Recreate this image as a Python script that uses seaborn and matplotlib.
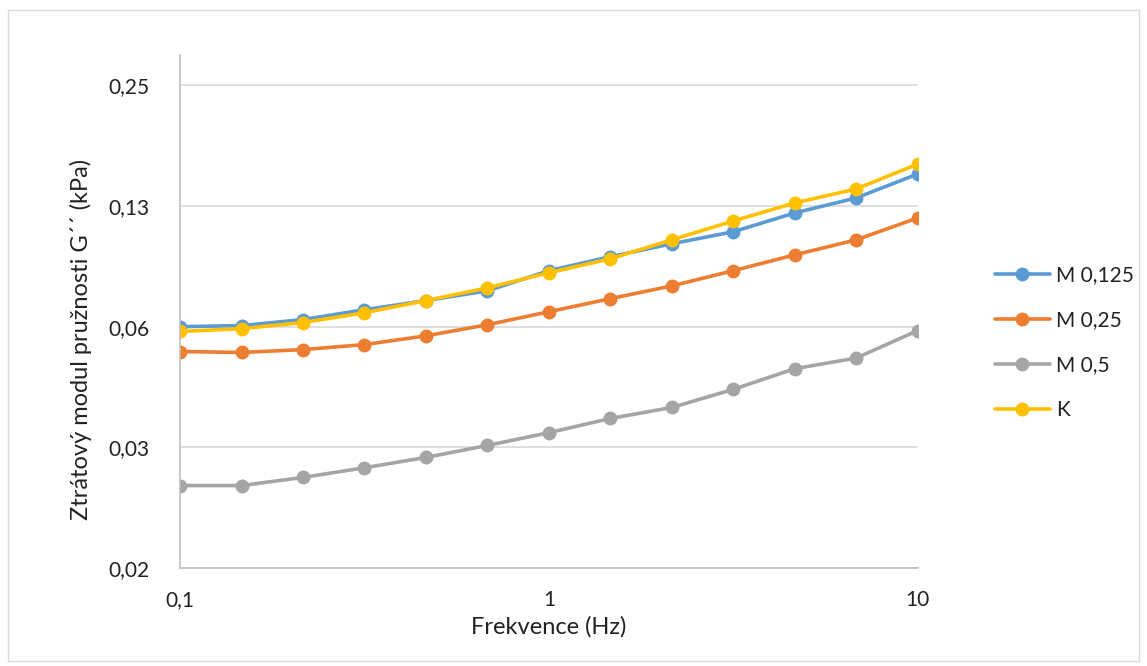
import numpy as np
import pandas as pd
import matplotlib
matplotlib.use('Agg')
import matplotlib.pyplot as plt
import seaborn as sns
from matplotlib.ticker import FixedLocator, FixedFormatter, NullLocator

sns.set_theme()
sns.set_style('white')
plt.rcParams['font.family'] = ['Lato', 'DejaVu Sans']

# data
frekvence = [0.1, 0.1468, 0.2154, 0.3162, 0.4642, 0.6813, 1.0, 1.468, 2.154, 3.162, 4.642, 6.813, 10.0]
m_0125 = [0.0625, 0.0629, 0.0651, 0.0689, 0.0726, 0.0768, 0.0862, 0.0934, 0.1006, 0.1078, 0.1201, 0.1309, 0.1502]
m_025 = [0.0542, 0.0539, 0.0548, 0.0564, 0.0593, 0.0632, 0.0681, 0.0734, 0.0790, 0.0862, 0.0944, 0.1029, 0.1167]
m_05 = [0.0251, 0.0251, 0.0263, 0.0278, 0.0295, 0.0316, 0.0340, 0.0369, 0.0393, 0.0436, 0.0491, 0.0522, 0.0611]
k = [0.0608, 0.0618, 0.0640, 0.0677, 0.0726, 0.0781, 0.0852, 0.0923, 0.1029, 0.1147, 0.1272, 0.1378, 0.1590]

serie = ['M 0,125', 'M 0,25', 'M 0,5', 'K']
barvy = ['#5B9BD5', '#ED7D31', '#A5A5A5', '#FFC000']

y_ticks = [0.015625, 0.03125, 0.0625, 0.125, 0.25]
y_labels = ['0,02', '0,03', '0,06', '0,13', '0,25']
x_ticks = [0.1, 1, 10]
x_labels = ['0,1', '1', '10']

df = pd.DataFrame({
    'f': frekvence * 4,
    'g': m_0125 + m_025 + m_05 + k,
    'serie': [s for s in serie for _ in frekvence],
})

fig = plt.figure(figsize=(11.47, 6.66), dpi=100)
ax = fig.add_axes([0.157, 0.147, 0.643, 0.770])

sns.lineplot(data=df, x='f', y='g', hue='serie', hue_order=serie, palette=barvy,
             marker='o', markersize=10, markeredgewidth=0, linewidth=2.6,
             sort=False, ax=ax)

ax.set_xscale('log')
ax.set_yscale('log', base=2)
ax.set_xlim(0.1, 10)
ax.set_ylim(0.015625, 0.297)

ax.yaxis.set_major_locator(FixedLocator(y_ticks))
ax.yaxis.set_major_formatter(FixedFormatter(y_labels))
ax.yaxis.set_minor_locator(NullLocator())
ax.xaxis.set_major_locator(FixedLocator(x_ticks))
ax.xaxis.set_major_formatter(FixedFormatter(x_labels))
ax.xaxis.set_minor_locator(NullLocator())

ax.grid(axis='y', color='#D9D9D9', linewidth=1.2)
ax.grid(axis='x', visible=False)
ax.set_axisbelow(True)
for s in ['top', 'right']:
    ax.spines[s].set_visible(False)
for s in ['left', 'bottom']:
    ax.spines[s].set_color('#BFBFBF')
    ax.spines[s].set_linewidth(1.2)
ax.tick_params(axis='both', length=0, labelsize=15, colors='#222222')
ax.tick_params(axis='x', pad=16)
ax.tick_params(axis='y', pad=22)

ax.set_xlabel('Frekvence (Hz)', fontsize=17, color='#222222', labelpad=4)
ax.set_ylabel('Ztrátový modul pružnosti G´´ (kPa)', fontsize=17, color='#222222')
ax.yaxis.set_label_coords(-0.119, 0.445)

leg = ax.legend(loc='center left', bbox_to_anchor=(1.08, 0.44), frameon=False,
                fontsize=15, handlelength=2.6, labelspacing=1.2, handletextpad=0.3)
for t in leg.get_texts():
    t.set_color('#222222')

fig.patches.append(plt.Rectangle((0.007, 0.008), 0.986, 0.977, transform=fig.transFigure,
                                 fill=False, edgecolor='#D9D9D9', linewidth=1))

fig.savefig('out.png', dpi=100)
